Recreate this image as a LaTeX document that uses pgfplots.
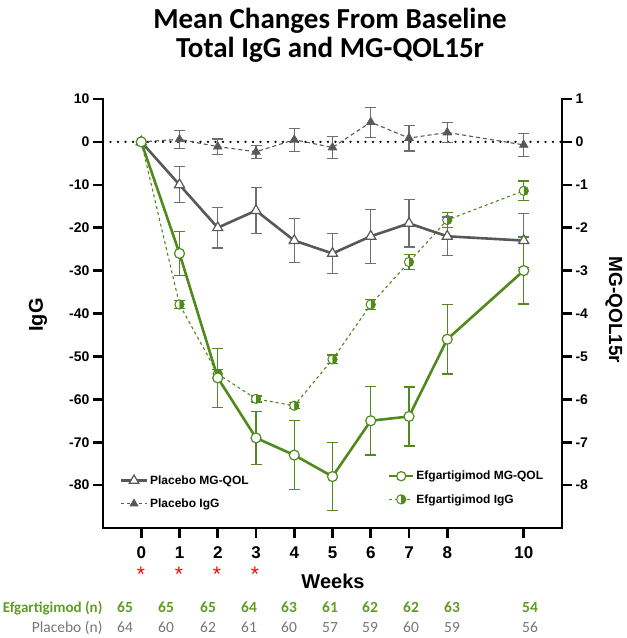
\documentclass[border=0pt]{standalone}
\usepackage{pgfplots}
\pgfplotsset{compat=1.18}
\usepackage{fontspec}
\setmainfont{Liberation Sans}
\newfontfamily\calibri{Carlito}
\usetikzlibrary{plotmarks}
\definecolor{eg}{RGB}{80,138,28}
\definecolor{pg}{RGB}{88,88,88}
\definecolor{pge}{RGB}{110,110,110}
\definecolor{tg}{RGB}{96,156,38}
\definecolor{tgray}{RGB}{118,118,118}
\begin{document}
\begin{tikzpicture}
\useasboundingbox (0,0) rectangle (627pt,-638pt);
\pgfplotsset{
 common/.style={
  scale only axis, width=459pt, height=429pt,
  at={(103pt,-528pt)}, anchor=south west,
  xmin=-1, xmax=11, clip=false,
  axis line style={line width=2.6pt, line cap=rect},
  tick style={line width=2.6pt, black},
  major tick length=10pt, tick align=outside,
  /pgf/number format/assume math mode=true,
  yticklabel style={font=\fontsize{14}{14}\selectfont\bfseries},
  legend cell align=left,
 },
 ebar/.style={error bars/.cd, y dir=both, y explicit,
   error bar style={#1, line width=1.3pt, solid},
   error mark options={rotate=90, #1, mark size=5.5pt, line width=1.3pt, solid}, /pgfplots/.cd},
}
% ---------------- left axis: IgG ----------------
\begin{axis}[common,
  axis x line*=bottom, axis y line*=left,
  ymin=-90, ymax=10,
  ytick={-80,-70,...,10},
  xtick={0,1,2,3,4,5,6,7,8,10},
  xticklabel style={font=\fontsize{17}{17}\selectfont\bfseries, yshift=-5pt},
  legend style={at={(0.03,0.035)}, anchor=south west, draw=none, fill=none,
    font=\fontsize{12}{12}\selectfont\bfseries, row sep=9pt,
    /tikz/every even column/.append style={column sep=10pt}},
  legend image code/.code={\draw[mark repeat=2,mark phase=2] plot coordinates {(0cm,0cm) (0.45cm,0cm) (0.9cm,0cm)};},
]
\addlegendimage{pg, line width=2.5pt, mark=triangle*, mark size=5.5pt, mark options={fill=white, draw=pg, line width=1.2pt}}
\addlegendentry{Placebo MG-QOL}
\addlegendimage{pg, line width=1.1pt, dash pattern=on 3pt off 3pt, mark=triangle*, mark size=4.5pt, mark options={solid, fill=pg, draw=pg, line width=0.8pt}}
\addlegendentry{Placebo IgG}

\addplot[black, line width=2.6pt, dash pattern=on 0pt off 7.5pt, line cap=round, forget plot] coordinates {(-1,0) (11,0)};

% Placebo IgG
\addplot[forget plot, pg, line width=1.1pt, dash pattern=on 4pt off 3pt, mark=triangle*, mark size=4.8pt,
  mark options={solid, fill=pg, draw=pg, line width=0.8pt}, ebar=pge]
 coordinates {(0,0) +- (0,0) (1,0.6) +- (0,2.1) (2,-1.1) +- (0,1.8) (3,-2.3) +- (0,1.5)
  (4,0.5) +- (0,2.7) (5,-1.3) +- (0,2.6) (6,4.6) +- (0,3.5) (7,0.9) +- (0,3.0)
  (8,2.2) +- (0,2.3) (10,-0.7) +- (0,2.7)};

% Efgartigimod IgG
\addplot[forget plot, eg, line width=1.1pt, dash pattern=on 3pt off 3pt, mark=halfcircle*, mark size=4.6pt,
  mark options={solid, fill=white, draw=eg, mark color=eg, rotate=90, line width=1pt}, ebar=eg]
 coordinates {(0,0) +- (0,0) (1,-37.9) +- (0,0.9) (2,-54.1) +- (0,1.0) (3,-59.9) +- (0,0.7)
  (4,-61.5) +- (0,0.7) (5,-50.7) +- (0,1.0) (6,-37.9) +- (0,1.1) (7,-28.0) +- (0,1.8)
  (8,-18.2) +- (0,1.8) (10,-11.4) +- (0,2.3)};
\end{axis}

% ---------------- right axis: MG-QOL15r ----------------
\begin{axis}[common,
  axis y line*=right, axis x line=none,
  ymin=-9, ymax=1,
  ytick={-8,-7,...,1},
  legend style={at={(0.614,0.045)}, anchor=south west, draw=none, fill=none,
    font=\fontsize{12}{12}\selectfont\bfseries, row sep=9pt,
    /tikz/every even column/.append style={column sep=10pt}},
  legend image code/.code={\draw[mark repeat=2,mark phase=2] plot coordinates {(0cm,0cm) (0.42cm,0cm) (0.84cm,0cm)};},
]
\addlegendimage{eg, line width=2.5pt, mark=*, mark size=4.6pt, mark options={fill=white, draw=eg, line width=1.2pt}}
\addlegendentry{Efgartigimod MG-QOL}
\addlegendimage{eg, line width=1.1pt, dash pattern=on 3pt off 3pt, mark=halfcircle*, mark size=4.6pt, mark options={solid, fill=white, draw=eg, mark color=eg, rotate=90, line width=1pt}}
\addlegendentry{Efgartigimod IgG}

% Placebo MG-QOL
\addplot[forget plot, pg, line width=2.6pt, mark=triangle*, mark size=5.8pt,
  mark options={fill=white, draw=pg, line width=1.2pt}, ebar=pge]
 coordinates {(0,0) +- (0,0) (1,-1.0) +- (0,0.42) (2,-2.0) +- (0,0.47) (3,-1.6) +- (0,0.53)
  (4,-2.3) +- (0,0.51) (5,-2.6) +- (0,0.46) (6,-2.2) +- (0,0.63) (7,-1.9) +- (0,0.55)
  (8,-2.2) +- (0,0.45) (10,-2.3) +- (0,0.63)};

% Efgartigimod MG-QOL
\addplot[forget plot, eg, line width=2.6pt, mark=*, mark size=5pt,
  mark options={fill=white, draw=eg, line width=1.2pt}, ebar=eg]
 coordinates {(0,0) +- (0,0) (1,-2.6) +- (0,0.51) (2,-5.5) +- (0,0.69) (3,-6.9) +- (0,0.62)
  (4,-7.3) +- (0,0.80) (5,-7.8) +- (0,0.80) (6,-6.5) +- (0,0.80) (7,-6.4) +- (0,0.69)
  (8,-4.6) +- (0,0.81) (10,-3.0) +- (0,0.78)};
\end{axis}

% ---------------- texts ----------------
\begin{scope}[x=1pt, y=-1pt]
\node[font=\calibri\bfseries\fontsize{29}{29}\selectfont, anchor=base] at (330,28) {Mean Changes From Baseline};
\node[font=\calibri\bfseries\fontsize{29}{29}\selectfont, anchor=base] at (330,57) {Total IgG and MG-QOL15r};
\node[rotate=90, font=\bfseries\fontsize{20}{20}\selectfont] at (38,315) {IgG};
\node[rotate=-90, font=\bfseries\fontsize{19}{19}\selectfont] at (614,310) {MG-QOL15r};
\node[font=\bfseries\fontsize{20}{20}\selectfont] at (333,581) {Weeks};
\foreach \x in {141,179,217,255} {\node[red, font=\fontsize{21}{21}\selectfont, anchor=base] at (\x,581) {*};}
\node[tg, font=\calibri\bfseries\fontsize{15}{15}\selectfont, anchor=base east] at (106,612) {Efgartigimod (n)};
\node[tgray, font=\calibri\fontsize{15.5}{15.5}\selectfont, anchor=base east] at (106,632) {Placebo (n)};
\foreach \x/\a/\b in {125/65/64,166/65/60,208/65/62,249/64/61,289/63/60,330/61/57,370/62/59,411/62/60,452/63/59,530/54/56} {
  \node[tg, font=\calibri\bfseries\fontsize{15.5}{15.5}\selectfont, anchor=base] at (\x,612) {\a};
  \node[tgray, font=\calibri\fontsize{15.5}{15.5}\selectfont, anchor=base] at (\x,632) {\b};
}
\end{scope}
\end{tikzpicture}
\end{document}
